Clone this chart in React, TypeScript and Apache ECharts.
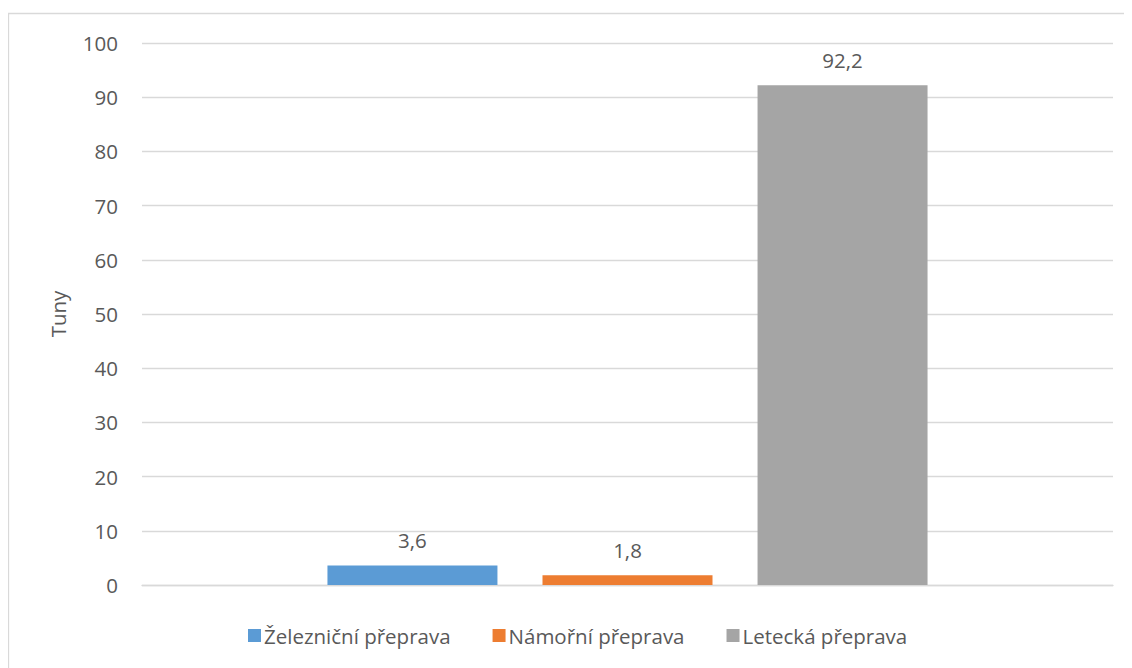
import React, { useEffect, useRef } from "react";
import * as echarts from "echarts";

const categories = [""];
const seriesNames = ["Železniční přeprava", "Námořní přeprava", "Letecká přeprava"];
const seriesValues = [[3.6], [1.8], [92.2]];
const seriesColors = ["#5B9BD5", "#ED7D31", "#A5A5A5"];
const yTicks = { min: 0, max: 100, interval: 10 };

const FONT = "'Open Sans', sans-serif";
const TEXT = "#595959";
const FS = 20.5;

export default function App() {
  const ref = useRef<HTMLDivElement>(null);

  useEffect(() => {
    if (!ref.current) return;
    const chart = echarts.init(ref.current, undefined, { renderer: "svg" });
    chart.setOption({
      animation: false,
      textStyle: { fontFamily: FONT, color: TEXT },
      graphic: [
        {
          type: "rect",
          shape: { x: 0.5, y: 5.5, width: 1300, height: 800 },
          style: { fill: "none", stroke: "#D9D9D9", lineWidth: 1.3 },
          silent: true,
          z: -1,
        },
      ],
      grid: { left: 134, right: 19, top: 35, bottom: 83 },
      legend: {
        top: 612,
        left: 235,
        itemWidth: 13,
        itemHeight: 13,
        itemGap: 42,
        icon: "rect",
        textStyle: { fontFamily: FONT, fontSize: FS, color: TEXT, padding: [0, 0, 0, -2] },
        data: seriesNames,
      },
      xAxis: {
        type: "category",
        data: categories,
        axisLine: { lineStyle: { color: "#D9D9D9", width: 1.3 } },
        axisTick: { show: false },
        axisLabel: { show: false },
      },
      yAxis: {
        type: "value",
        min: yTicks.min,
        max: yTicks.max,
        interval: yTicks.interval,
        name: "Tuny",
        nameLocation: "middle",
        nameGap: 74,
        nameRotate: 90,
        nameTextStyle: { fontFamily: FONT, fontSize: FS, color: TEXT },
        axisLine: { show: false },
        axisTick: { show: false },
        axisLabel: { fontFamily: FONT, fontSize: FS, color: TEXT, margin: 24 },
        splitLine: { lineStyle: { color: "#D9D9D9", width: 1.3 } },
      },
      series: seriesNames.map((name, i) => ({
        name,
        type: "bar",
        data: seriesValues[i],
        barWidth: 170,
        barGap: "26.5%",
        itemStyle: { color: seriesColors[i] },
        label: {
          show: true,
          position: "top",
          distance: 15,
          fontFamily: FONT,
          fontSize: FS,
          color: TEXT,
          formatter: (p: any) => String(p.value).replace(".", ","),
        },
      })),
    });
    return () => chart.dispose();
  }, []);

  return <div ref={ref} style={{ width: 1124, height: 660 }} />;
}
